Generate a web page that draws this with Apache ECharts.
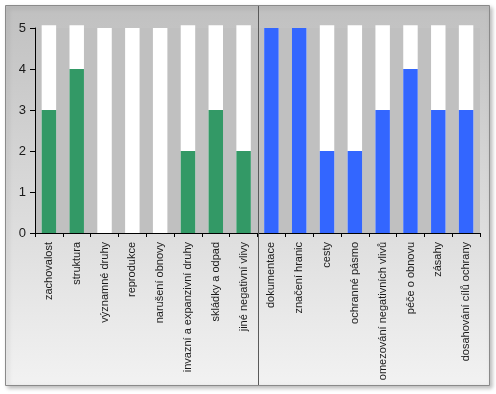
<!DOCTYPE html>
<html>
<head>
<meta charset="utf-8">
<script src="https://cdn.jsdelivr.net/npm/echarts@6/dist/echarts.min.js"></script>
<style>
html,body{margin:0;padding:0;background:#fff;}
#c{width:496px;height:394px;}
</style>
</head>
<body>
<div id="c"></div>
<script>
// Group 1 (green) and group 2 (blue) categories and scores
var catsA = ['zachovalost','struktura','významné druhy','reprodukce','narušení obnovy','invazní a expanzivní druhy','skládky a odpad','jiné negativní vlivy'];
var catsB = ['dokumentace','značení hranic','cesty','ochranné pásmo','omezování negativních vlivů','péče o obnovu','zásahy','dosahování cílů ochrany'];
var scoresA = [3, 4, 0, 0, 0, 2, 3, 2];
var scoresB = [5, 5, 2, 2, 3, 4, 3, 3];
// white "maximum" bars
var maxBarsA = [5.07, 5.07, 5, 5, 5, 5.07, 5.07, 5.07];
var maxBarsB = [5, 5, 5.07, 5.07, 5.07, 5.07, 5.07, 5.07];
var yTicks = [0, 1, 2, 3, 4, 5];

var categories = catsA.concat(catsB);
var nA = catsA.length;
var greenData = scoresA.concat(catsB.map(function(){return '-';}));
var blueData = catsA.map(function(){return '-';}).concat(scoresB);
var whiteData = maxBarsA.concat(maxBarsB);

var chart = echarts.init(document.getElementById('c'), null, {renderer:'canvas'});
var FONT = '"Liberation Sans", Arial, sans-serif';

var option = {
  animation: false,
  grid: {
    left: 35, right: 16, top: 28, bottom: 161,
    show: true, backgroundColor: '#c0c0c0', borderWidth: 0
  },
  xAxis: {
    type: 'category',
    data: categories,
    axisLine: {lineStyle: {color: '#000', width: 1}},
    axisTick: {show: true, interval: 0, length: 4, lineStyle: {color: '#000'}},
    axisLabel: {
      interval: 0, rotate: 90, margin: 9,
      fontFamily: FONT, fontSize: 11, color: '#1a1a1a'
    },
    splitLine: {show: false}
  },
  yAxis: {
    type: 'value',
    min: yTicks[0], max: yTicks[yTicks.length - 1], interval: 1,
    axisLine: {show: true, lineStyle: {color: '#000', width: 1}},
    axisTick: {show: true, length: 5, lineStyle: {color: '#000'}},
    axisLabel: {margin: 9, fontFamily: FONT, fontSize: 13, color: '#1a1a1a'},
    splitLine: {show: false}
  },
  series: [
    {
      type: 'bar', name: 'max', data: whiteData, barWidth: '52%', barGap: '-100%',
      clip: false, itemStyle: {color: '#ffffff'}, silent: true
    },
    {
      type: 'bar', name: 'A', data: greenData, barWidth: '52%', barGap: '-100%',
      itemStyle: {color: '#339966'}
    },
    {
      type: 'bar', name: 'B', data: blueData, barWidth: '52%', barGap: '-100%',
      itemStyle: {color: '#3366ff'}
    }
  ]
};
chart.setOption(option);

// divider between the groups, located through the category axis
var pA = chart.convertToPixel({xAxisIndex: 0}, nA - 1);
var pB = chart.convertToPixel({xAxisIndex: 0}, nA);
var divX = Math.round((pA + pB) / 2) + 0.5;

chart.setOption({
  graphic: [
    {
      type: 'rect', z: -10, silent: true,
      shape: {x: 5.5, y: 5.5, width: 484, height: 380},
      style: {
        fill: new echarts.graphic.LinearGradient(0, 0, 0, 1, [
          {offset: 0, color: '#c0c0c0'},
          {offset: 1, color: '#f2f2f2'}
        ]),
        stroke: '#8a8a8a', lineWidth: 1,
        shadowBlur: 4, shadowOffsetX: 2, shadowOffsetY: 2, shadowColor: 'rgba(0,0,0,0.25)'
      }
    },
    {
      type: 'line', z: 100, silent: true,
      shape: {x1: divX, y1: 6, x2: divX, y2: 385},
      style: {stroke: '#5a5a5a', lineWidth: 1}
    }
  ]
});
</script>
</body>
</html>
